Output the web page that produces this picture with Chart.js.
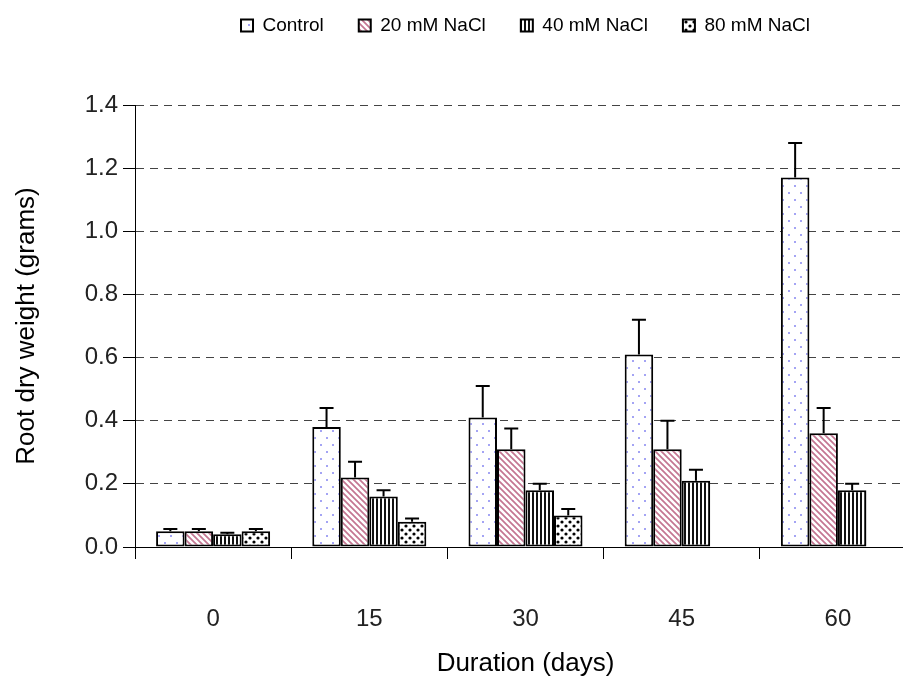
<!DOCTYPE html>
<html><head><meta charset="utf-8">
<script src="https://cdn.jsdelivr.net/npm/chart.js@4/dist/chart.umd.min.js"></script>
<style>
html,body{margin:0;padding:0;background:#fff;overflow:hidden;}
#wrap{position:relative;width:916px;height:682px;}
</style></head><body>
<div id="wrap"><canvas id="c"></canvas></div>
<script>
const categories = ['0', '15', '30', '45', '60'];
const seriesNames = ['Control', '20 mM NaCl', '40 mM NaCl', '80 mM NaCl'];
const control    = [0.05, 0.38, 0.41, 0.61, 1.17];
const controlErr = [0.007, 0.06, 0.10, 0.11, 0.11];
const nacl20     = [0.05, 0.22, 0.31, 0.31, 0.36];
const nacl20Err  = [0.007, 0.05, 0.065, 0.09, 0.08];
const nacl40     = [0.04, 0.16, 0.18, 0.21, 0.18];
const nacl40Err  = [0.005, 0.02, 0.02, 0.035, 0.02];
const nacl80     = [0.05, 0.08, 0.10, null, null];
const nacl80Err  = [0.007, 0.01, 0.02, null, null];
const yTickValues = [0, 0.2, 0.4, 0.6, 0.8, 1.0, 1.2, 1.4];
const yTitle = 'Root dry weight (grams)';
const xTitle = 'Duration (days)';

const FONT = "'Liberation Sans', Arial, sans-serif";
const mainCtx = document.getElementById('c').getContext('2d');
function makePattern(w, h, draw) {
  const c = document.createElement('canvas');
  c.width = w; c.height = h;
  const g = c.getContext('2d');
  g.fillStyle = '#fff'; g.fillRect(0, 0, w, h);
  draw(g);
  return mainCtx.createPattern(c, 'repeat');
}
const patControl = makePattern(12, 14, g => {
  g.fillStyle = '#a4a4f4';
  g.fillRect(2, 3, 2, 2); g.fillRect(8, 10, 2, 2);
});
const pat20 = makePattern(6, 6, g => {
  g.strokeStyle = '#c47692'; g.lineWidth = 1.7;
  g.beginPath();
  g.moveTo(-1, -1); g.lineTo(7, 7);
  g.moveTo(-1, 5); g.lineTo(1, 7);
  g.moveTo(5, -1); g.lineTo(7, 1);
  g.stroke();
});
const pat40 = makePattern(4, 4, g => {
  g.fillStyle = '#111'; g.fillRect(0, 0, 2, 4);
});
const pat80 = makePattern(8, 8, g => {
  g.fillStyle = '#000';
  g.beginPath(); g.arc(2, 2, 1.6, 0, Math.PI * 2); g.fill();
  g.beginPath(); g.arc(6, 6, 1.6, 0, Math.PI * 2); g.fill();
});

const values = [control, nacl20, nacl40, nacl80];
const errs = [controlErr, nacl20Err, nacl40Err, nacl80Err];
const fills = [patControl, pat20, pat40, pat80];

const errorBars = {
  id: 'errorBars',
  afterDatasetsDraw(chart) {
    const ctx = chart.ctx, y = chart.scales.y;
    chart.data.datasets.forEach((ds, i) => {
      const meta = chart.getDatasetMeta(i);
      meta.data.forEach((bar, j) => {
        const v = ds.data[j], e = errs[i][j];
        if (v == null || e == null) return;
        const yTop = y.getPixelForValue(v + e);
        ctx.save();
        ctx.strokeStyle = '#000'; ctx.lineWidth = 2;
        ctx.beginPath();
        ctx.moveTo(bar.x, bar.y); ctx.lineTo(bar.x, yTop);
        ctx.moveTo(bar.x - 7, yTop); ctx.lineTo(bar.x + 7, yTop);
        ctx.stroke();
        ctx.restore();
      });
    });
  }
};

new Chart(document.getElementById('c'), {
  type: 'bar',
  data: {
    labels: categories,
    datasets: seriesNames.map((n, i) => ({
      label: n,
      data: values[i],
      backgroundColor: fills[i],
      borderColor: '#000',
      borderWidth: 2,
      borderSkipped: false,
      categoryPercentage: 0.73,
      barPercentage: 1.0,
      xAxisID: 'x',
      yAxisID: 'y'
    }))
  },
  plugins: [errorBars],
  options: {
    responsive: true,
    maintainAspectRatio: false,
    animation: false,
    devicePixelRatio: 1,
    layout: { padding: { left: 0, right: 0, top: -19, bottom: 0 } },
    plugins: {
      legend: {
        position: 'top',
        fullSize: false,
        labels: {
          font: { family: FONT, size: 19 },
          color: '#000',
          boxWidth: 12,
          boxHeight: 12,
          padding: 35
        }
      },
      tooltip: { enabled: false }
    },
    scales: {
      x: {
        afterFit: s => { s.height = 135; },
        grid: { display: true, drawOnChartArea: false, drawTicks: true, tickLength: 12, color: '#000', offset: true },
        border: { display: true, color: '#000', width: 1 },
        ticks: { font: { family: FONT, size: 24 }, color: '#222', padding: 46 },
        title: { display: true, text: xTitle, font: { family: FONT, size: 26 }, color: '#000', padding: { top: 13, bottom: 3 } }
      },
      xTop: {
        type: 'category',
        position: 'top',
        display: true,
        afterFit: s => { s.height = 60; },
        grid: { display: false, drawTicks: false },
        border: { display: false },
        ticks: { display: false }
      },
      y: {
        min: 0, max: 1.4,
        afterBuildTicks: s => { s.ticks = yTickValues.map(v => ({ value: v })); },
        afterFit: s => { s.width = 135; },
        grid: { color: '#444', lineWidth: 1, drawTicks: true, tickLength: 12, tickColor: '#000', tickBorderDash: [] },
        border: { display: true, color: '#000', width: 1, dash: [8, 6] },
        ticks: { font: { family: FONT, size: 24 }, color: '#222', padding: 5, callback: v => Number(v).toFixed(1) },
        title: { display: true, text: yTitle, font: { family: FONT, size: 26 }, color: '#000', padding: { top: 11, bottom: 0 } }
      }
    }
  }
});
</script>
</body></html>
